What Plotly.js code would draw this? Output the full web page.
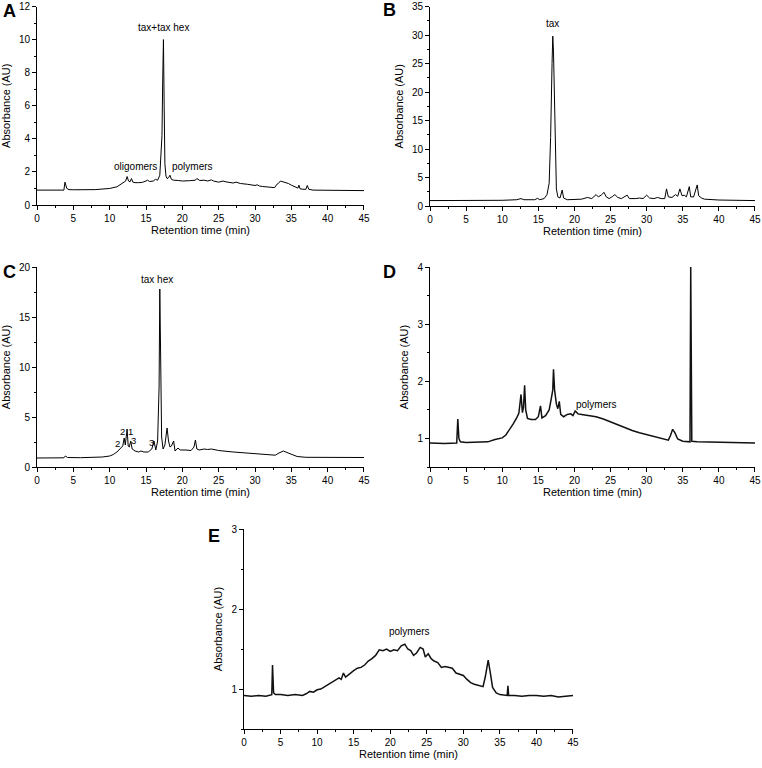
<!DOCTYPE html>
<html>
<head>
<meta charset="utf-8">
<script src="https://cdn.plot.ly/plotly-3.0.1.min.js"></script>
<style>html,body{margin:0;padding:0;background:#fff}#chart{width:762px;height:768px}</style>
</head>
<body>
<div id="chart"></div>
<script>
// ---- Data ----
const xA = [0,3.7,3.85,3.95,4.1,4.4,5,8,9,10,11,11.6,12.0,12.2,12.4,12.6,12.8,13.0,13.2,13.5,14,14.5,15,15.2,15.5,16,16.3,16.6,16.9,17.05,17.2,17.3,17.4,17.5,17.6,17.75,17.9,18.1,18.3,18.5,18.8,19.5,20,21,21.8,22,22.4,23,23.5,24,24.3,25,25.6,26,27,27.4,28,29,30,30.3,30.6,31,32,32.7,33.0,33.2,33.5,33.8,34.2,34.6,35,35.5,35.9,36.05,36.2,36.6,37.0,37.2,37.4,38,40,45];
const yA = [0.9,0.9,1.38,1.2,1.0,0.93,0.92,0.93,0.97,1.0,1.1,1.25,1.4,1.45,1.72,1.45,1.4,1.6,1.38,1.35,1.35,1.37,1.45,1.5,1.42,1.45,1.55,1.5,1.8,3.5,4.2,7.5,10.0,6,2.5,1.75,1.6,1.65,1.8,1.55,1.5,1.48,1.45,1.47,1.5,1.6,1.48,1.5,1.45,1.52,1.45,1.38,1.45,1.4,1.33,1.38,1.3,1.25,1.18,1.22,1.15,1.12,1.08,1.05,1.25,1.3,1.45,1.42,1.35,1.3,1.2,1.12,1.02,1.2,0.98,0.95,0.95,1.18,0.95,0.9,0.88,0.87];

const xB = [0,5,8,10,12,12.6,13,14.5,14.9,15.2,15.8,16.2,16.5,16.7,16.9,17.0,17.1,17.3,17.5,17.7,18.0,18.3,18.5,19,20,21,21.8,22.4,23.0,23.3,23.7,24.1,24.4,24.8,25.3,25.6,26.0,26.5,27.3,27.6,28.5,29,29.5,30.0,30.4,31,31.5,32,32.5,32.75,33.0,33.5,34.0,34.3,34.6,34.9,35.2,35.5,35.9,36.1,36.5,37.0,37.2,37.6,38,39,40,45];
const yB = [0.95,0.95,1.0,1.0,1.1,1.3,1.1,1.1,1.35,1.1,1.3,2.0,4,12,25,29.8,27,12,3,1.6,1.4,2.8,1.4,1.1,1.1,1.2,1.5,1.3,2.0,1.6,1.9,2.4,1.6,1.3,1.7,2.0,1.5,1.3,1.9,1.3,1.3,1.4,1.3,1.9,1.4,1.3,1.5,1.3,1.3,3.0,1.6,1.5,2.0,1.7,3.0,1.8,1.9,1.6,3.4,1.6,1.6,3.7,1.8,1.4,1.2,1.1,1.05,0.95];

const xC = [0,3.7,3.9,4.2,6,8,9,10,10.5,11,11.5,11.8,12.0,12.15,12.4,12.55,12.7,12.9,13.1,13.5,14,14.3,14.7,15.3,15.8,16.1,16.35,16.6,16.8,16.9,17.0,17.15,17.35,17.6,17.9,18.1,18.3,18.5,18.8,19.0,19.4,19.7,20.5,21.2,21.6,21.8,22.0,22.3,23.0,23.5,24.0,24.5,25,27,29,31,32.8,33.3,33.9,34.4,35,35.8,37,40,45];
const yC = [0.9,0.92,1.1,0.95,0.93,0.95,1.0,1.1,1.25,1.5,1.9,2.1,2.9,2.2,3.8,2.1,2.0,2.6,1.8,1.6,1.5,1.6,1.5,1.5,1.8,2.6,1.7,2.6,8,17.8,12,3,1.8,2.2,3.9,2.6,2.0,2.1,2.6,1.6,1.9,1.7,1.7,1.65,2.0,2.7,1.8,1.7,1.8,1.75,1.8,1.7,1.65,1.5,1.4,1.3,1.18,1.4,1.6,1.45,1.25,1.05,0.97,0.95,0.95];

const xD = [0,2,3.7,3.85,4.0,4.2,5,7,8,9,10,10.5,11,11.5,12.0,12.3,12.45,12.6,12.8,12.95,13.1,13.25,13.5,14,14.6,15.0,15.3,15.5,16,16.5,16.8,17.0,17.1,17.25,17.5,17.7,17.9,18.1,18.5,19,19.5,19.8,20.1,20.5,21,22,23,24,25,26,27,28,29,30,31,32,33,33.3,33.6,33.9,34.3,35,36.0,36.1,36.25,37,40,45];
const yD = [0.92,0.91,0.92,1.34,1.0,0.94,0.93,0.93,0.94,0.98,1.01,1.06,1.15,1.25,1.36,1.44,1.6,1.77,1.45,1.55,1.93,1.5,1.35,1.33,1.33,1.38,1.57,1.36,1.4,1.5,1.7,1.85,2.21,1.85,1.6,1.52,1.65,1.42,1.38,1.42,1.43,1.4,1.48,1.43,1.42,1.4,1.38,1.34,1.29,1.23,1.18,1.14,1.1,1.07,1.04,1.01,0.97,1.05,1.16,1.1,0.99,0.95,0.94,4.0,0.95,0.94,0.93,0.92];

const xE = [0,1,2,3,3.8,3.9,4.05,4.3,5,6,7,8,8.5,9,9.5,10,10.5,11,11.5,12,12.5,13,13.3,13.6,13.9,14.5,15,15.5,16,16.5,17,17.5,18,18.5,19,19.5,20,20.5,21,21.5,22,22.4,22.8,23.2,23.6,24.1,24.5,24.8,25.2,25.6,26,26.5,27,27.5,28,28.5,29,29.5,30,30.5,31,31.5,32,32.7,33.0,33.4,33.7,34.0,34.5,35,36.0,36.1,36.2,37,38,39,40,41,42,43,44,45];
const yE = [0.92,0.91,0.92,0.91,0.93,1.3,0.95,0.93,0.93,0.92,0.93,0.92,0.94,0.97,0.96,0.99,1.0,1.03,1.05,1.08,1.12,1.14,1.12,1.2,1.15,1.2,1.23,1.26,1.27,1.3,1.35,1.38,1.42,1.49,1.48,1.5,1.47,1.49,1.48,1.54,1.56,1.5,1.48,1.42,1.45,1.52,1.5,1.4,1.44,1.38,1.35,1.33,1.27,1.28,1.27,1.26,1.2,1.18,1.17,1.12,1.08,1.06,1.05,1.03,1.15,1.36,1.2,1.02,0.95,0.93,0.92,1.04,0.92,0.92,0.91,0.92,0.92,0.91,0.92,0.9,0.91,0.92];

const xTickVals = [0,5,10,15,20,25,30,35,40,45];
const yTicksA = [0,2,4,6,8,10,12];
const yTicksB = [0,5,10,15,20,25,30,35];
const yTicksC = [0,5,10,15,20];
const yTicksD = [1,2,3,4];
const yTicksE = [1,2,3];
const xTitle = "Retention time (min)";
const yTitle = "Absorbance (AU)";
const panelLetters = ["A","B","C","D","E"];

// ---- Layout helpers ----
const W = 762, H = 768;
const FONT = "Liberation Sans, Arial, Helvetica, sans-serif";
function px2x(p){ return p / W; }
function px2y(p){ return 1 - p / H; }

function xAxis(domain, anchor){
  return {
    domain: domain, anchor: anchor, range: [0, 45.001], tickvals: xTickVals,
    showline: true, linecolor: "#000", linewidth: 1, showgrid: false, zeroline: false,
    ticks: "outside", ticklen: 4, tickcolor: "#000", tickwidth: 1,
    minor: {dtick: 2.5, tick0: 0, ticks: "outside", ticklen: 2, tickcolor: "#000", showgrid: false},
    tickfont: {family: FONT, size: 10, color: "#000"},
    title: {text: xTitle, font: {family: FONT, size: 11, color: "#000"}, standoff: 3},
    fixedrange: true
  };
}
function yAxis(domain, anchor, range, tickvals, minor){
  return {
    domain: domain, anchor: anchor, range: range, tickvals: tickvals,
    showline: true, linecolor: "#000", linewidth: 1, showgrid: false, zeroline: false,
    ticks: "outside", ticklen: 4, tickcolor: "#000", tickwidth: 1,
    minor: {dtick: minor, tick0: 0, ticks: "outside", ticklen: 2, tickcolor: "#000", showgrid: false},
    tickfont: {family: FONT, size: 10, color: "#000"},
    title: {text: yTitle, font: {family: FONT, size: 11, color: "#000"}, standoff: 6},
    fixedrange: true
  };
}

const line1 = {color: "#000", width: 1};
const line2 = {color: "#111", width: 1.5};
const traces = [
  {x: xA, y: yA, xaxis: "x", yaxis: "y", type: "scatter", mode: "lines", line: line1, hoverinfo: "skip"},
  {x: xB, y: yB, xaxis: "x2", yaxis: "y2", type: "scatter", mode: "lines", line: line1, hoverinfo: "skip"},
  {x: xC, y: yC, xaxis: "x3", yaxis: "y3", type: "scatter", mode: "lines", line: line1, hoverinfo: "skip"},
  {x: xD, y: yD, xaxis: "x4", yaxis: "y4", type: "scatter", mode: "lines", line: line2, hoverinfo: "skip"},
  {x: xE, y: yE, xaxis: "x5", yaxis: "y5", type: "scatter", mode: "lines", line: line2, hoverinfo: "skip"}
];

const dL = [px2x(37), px2x(364)], dR = [px2x(430), px2x(755)], dE = [px2x(244), px2x(573)];
const yTop = [px2y(205), px2y(6.5)], yTopB = [px2y(206), px2y(6.5)];
const yMid = [px2y(467), px2y(267)], yBot = [px2y(729), px2y(529)];

function lab(text, xref, yref, x, y, size){
  return {text: text, xref: xref, yref: yref, x: x, y: y, showarrow: false,
          xanchor: "center", yanchor: "middle",
          font: {family: FONT, size: size || 10, color: "#000"}};
}
function letter(t, px, py){
  return {text: "<b>" + t + "</b>", xref: "paper", yref: "paper", x: px2x(px), y: px2y(py),
          xanchor: "center", yanchor: "middle",
          showarrow: false, font: {family: FONT, size: 18, color: "#000"}};
}

const annotations = [
  lab("tax+tax hex", "x", "y", 17.4, 10.75),
  lab("oligomers", "x", "y", 13.5, 2.35),
  lab("polymers", "x", "y", 21.4, 2.35),
  lab("tax", "x2", "y2", 17.0, 32.1),
  lab("tax hex", "x3", "y3", 16.5, 18.8),
  lab("2", "x3", "y3", 11.1, 2.35, 9.5),
  lab("2", "x3", "y3", 11.75, 3.6, 9.5),
  lab("1", "x3", "y3", 12.85, 3.6, 9.5),
  lab("3", "x3", "y3", 13.3, 2.7, 9.5),
  lab("3", "x3", "y3", 15.7, 2.5, 9.5),
  lab("polymers", "x4", "y4", 23.05, 1.6),
  lab("polymers", "x5", "y5", 22.7, 1.72),
  letter(panelLetters[0], 9, 11),
  letter(panelLetters[1], 389, 10),
  letter(panelLetters[2], 9, 272),
  letter(panelLetters[3], 389, 272),
  letter(panelLetters[4], 214, 536)
];

const layout = {
  width: W, height: H, margin: {l: 0, r: 0, t: 0, b: 0},
  paper_bgcolor: "#fff", plot_bgcolor: "#fff", showlegend: false,
  font: {family: FONT, color: "#000"},
  xaxis: xAxis(dL, "y"), yaxis: yAxis(yTop, "x", [0, 12.001], yTicksA, 1),
  xaxis2: xAxis(dR, "y2"), yaxis2: yAxis(yTopB, "x2", [0, 35.001], yTicksB, 2.5),
  xaxis3: xAxis(dL, "y3"), yaxis3: yAxis(yMid, "x3", [0, 20.001], yTicksC, 2.5),
  xaxis4: xAxis(dR, "y4"), yaxis4: yAxis(yMid, "x4", [0.5, 4.001], yTicksD, 0.5),
  xaxis5: xAxis(dE, "y5"), yaxis5: yAxis(yBot, "x5", [0.5, 3.001], yTicksE, 0.5),
  annotations: annotations
};

Plotly.newPlot("chart", traces, layout, {staticPlot: true, displayModeBar: false});
</script>
</body>
</html>
